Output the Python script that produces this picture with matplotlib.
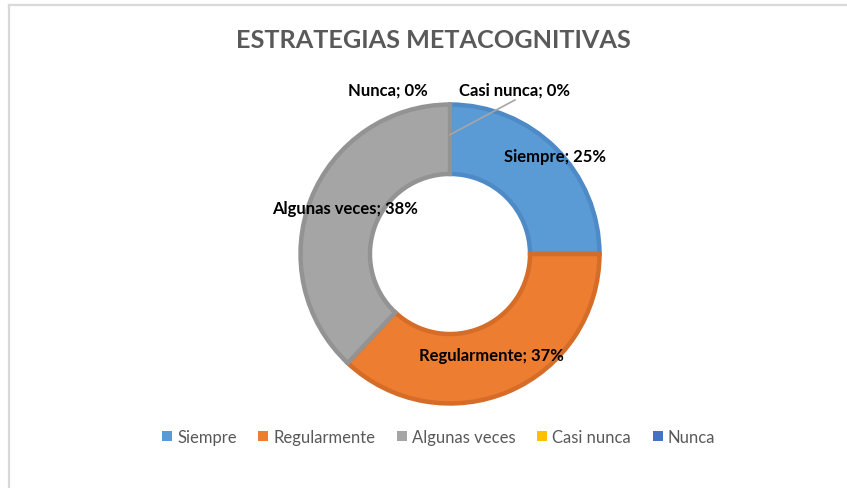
import matplotlib.pyplot as plt
import numpy as np

categories = ["Siempre", "Regularmente", "Algunas veces", "Casi nunca", "Nunca"]
values = [25, 37, 38, 0, 0]
colors = ["#5B9BD5", "#ED7D31", "#A5A5A5", "#FFC000", "#4472C4"]
edges = ["#4D8AC6", "#D56C27", "#939393", "#E6AD00", "#3C66B0"]

W, H = 847, 489
fig = plt.figure(figsize=(W / 100, H / 100), dpi=100)

# donut centre / radius in pixels
cx, cy, R = 450, 255, 151
half = 200
ax = fig.add_axes([(cx - half) / W, (H - cy - half) / H, 2 * half / W, 2 * half / H])

wedges, _ = ax.pie(values, colors=colors, startangle=90, counterclock=False,
                   radius=0.99, wedgeprops=dict(width=0.46))
for w, e, v in zip(wedges, edges, values):
    if v > 0:
        w.set_edgecolor(e)
        w.set_linewidth(3.2)
    else:
        w.set_linewidth(0)

# pie() resets the limits, so set them afterwards
ax.set_xlim(-half / R, half / R)
ax.set_ylim(-half / R, half / R)
ax.set_aspect("equal")
ax.axis("off")

lab_font = dict(family=["Lato", "DejaVu Sans"], fontweight="bold", fontsize=12, color="black")

# data labels for the non-zero slices
label_r = [0.95, 0.72, 0.76]
label_dang = [-2, -1, -2]
start = 90.0
total = sum(values)
for i, (c, v) in enumerate(zip(categories, values)):
    span = 360.0 * v / total
    if v > 0:
        mid = np.deg2rad(start - span / 2 + label_dang[i])
        ax.text(label_r[i] * np.cos(mid), label_r[i] * np.sin(mid), f"{c}; {v}%",
                ha="center", va="center", **lab_font)
    start -= span

# zero slices sit at the top
ax.text(-0.41, 1.09, f"{categories[4]}; {values[4]}%", ha="center", va="center", **lab_font)
ax.text(0.43, 1.09, f"{categories[3]}; {values[3]}%", ha="center", va="center", **lab_font)
ax.plot([0.0, 0.43], [0.79, 1.02], color="#A6A6A6", lw=1.2)

fig.text(433 / W, 1 - 40 / H, "ESTRATEGIAS METACOGNITIVAS", ha="center", va="center",
         family=["Lato", "DejaVu Sans"], fontweight="bold", fontsize=18.2, color="#595959")

handles = [plt.Rectangle((0, 0), 1, 1, facecolor=c, edgecolor="none") for c in colors]
fig.legend(handles, categories, loc="center", bbox_to_anchor=(0.518, 1 - 438 / H), ncol=5,
           frameon=False, handlelength=0.6, handleheight=0.6, handletextpad=0.3,
           columnspacing=1.3, prop=dict(family=["Lato", "DejaVu Sans"], size=12),
           labelcolor="#595959")

# border lines of the chart area (cropped screenshot)
fig.add_artist(plt.Line2D([9 / W, 1], [1 - 6 / H, 1 - 6 / H], color="#D9D9D9", lw=1.6))
fig.add_artist(plt.Line2D([9 / W, 9 / W], [0, 1 - 6 / H], color="#D9D9D9", lw=1.6))

fig.savefig("out.png", dpi=100, facecolor="white")
